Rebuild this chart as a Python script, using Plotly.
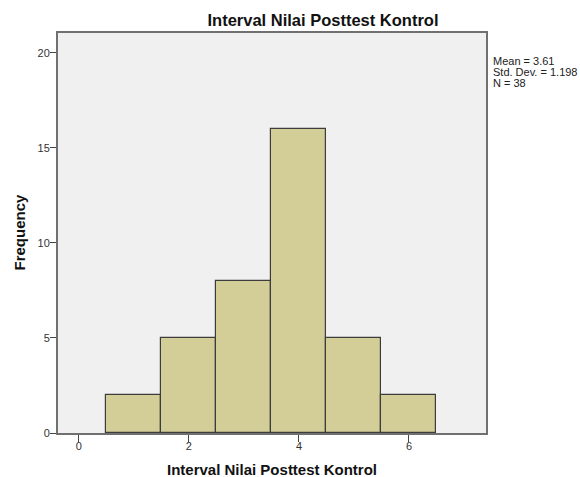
import plotly.graph_objects as go

bins = [1, 2, 3, 4, 5, 6]
freq = [2, 5, 8, 16, 5, 2]
x_ticks = [0, 2, 4, 6]
y_ticks = [0, 5, 10, 15, 20]
title = "Interval Nilai Posttest Kontrol"
x_title = "Interval Nilai Posttest Kontrol"
y_title = "Frequency"
stats_lines = ["Mean = 3.61", "Std. Dev. = 1.198", "N = 38"]

W, H = 580, 477
L, R, T, B = 58, 94, 33, 44
plot_w, plot_h = W - L - R, H - T - B


def px_x(px):
    return (px - L) / plot_w


def px_y(py):
    return (H - B - py) / plot_h


fig = go.Figure()
fig.add_trace(go.Bar(
    x=bins, y=freq, width=1,
    marker=dict(color="#d3ce98", line=dict(color="#3c3c3c", width=1.2)),
    hoverinfo="x+y", showlegend=False,
))

annotations = []
for i, line in enumerate(stats_lines):
    annotations.append(dict(
        text=line, xref="paper", yref="paper", x=px_x(491), y=px_y(61 + 11 * i),
        xanchor="left", yanchor="middle", align="left", showarrow=False,
        font=dict(size=11, color="#222222"),
    ))
annotations.append(dict(
    text="<b>" + x_title + "</b>", xref="paper", yref="paper", x=px_x(271.5), y=px_y(469),
    xanchor="center", yanchor="middle", showarrow=False,
    font=dict(size=15, color="#111111"),
))
annotations.append(dict(
    text="<b>" + y_title + "</b>", xref="paper", yref="paper", x=px_x(19), y=px_y(232.5),
    xanchor="center", yanchor="middle", textangle=-90, showarrow=False,
    font=dict(size=15, color="#111111"),
))

fig.update_layout(
    width=W, height=H,
    margin=dict(l=L, r=R, t=T, b=B),
    paper_bgcolor="white",
    plot_bgcolor="#f0f0f0",
    font=dict(family="Arial, Liberation Sans, sans-serif", color="#222222", size=11),
    title=dict(text="<b>" + title + "</b>", x=323 / W, xanchor="center", y=1 - 20.5 / H, yanchor="middle",
               font=dict(size=16.5, color="#111111")),
    bargap=0,
    annotations=annotations,
)
fig.update_xaxes(
    range=[-0.38, 7.4], tickmode="array", tickvals=x_ticks,
    ticks="outside", ticklen=7, tickcolor="#444444", tickwidth=1,
    ticklabelstandoff=-5,
    showline=True, linecolor="#707070", linewidth=2, mirror=True,
    showgrid=False, zeroline=False, automargin=False,
    tickfont=dict(size=11, color="#333333"),
)
fig.update_yaxes(
    range=[0, 21.05], tickmode="array", tickvals=y_ticks,
    ticks="outside", ticklen=6, tickcolor="#444444", tickwidth=1,
    ticklabelstandoff=-2,
    showline=True, linecolor="#707070", linewidth=2, mirror=True,
    showgrid=False, zeroline=False, automargin=False,
    tickfont=dict(size=11, color="#333333"),
)

fig.write_html(
    "out.html",
    config={"displayModeBar": False},
    post_script="document.body.style.margin='0';document.body.style.overflow='hidden';"
                "document.documentElement.style.overflow='hidden';",
)
